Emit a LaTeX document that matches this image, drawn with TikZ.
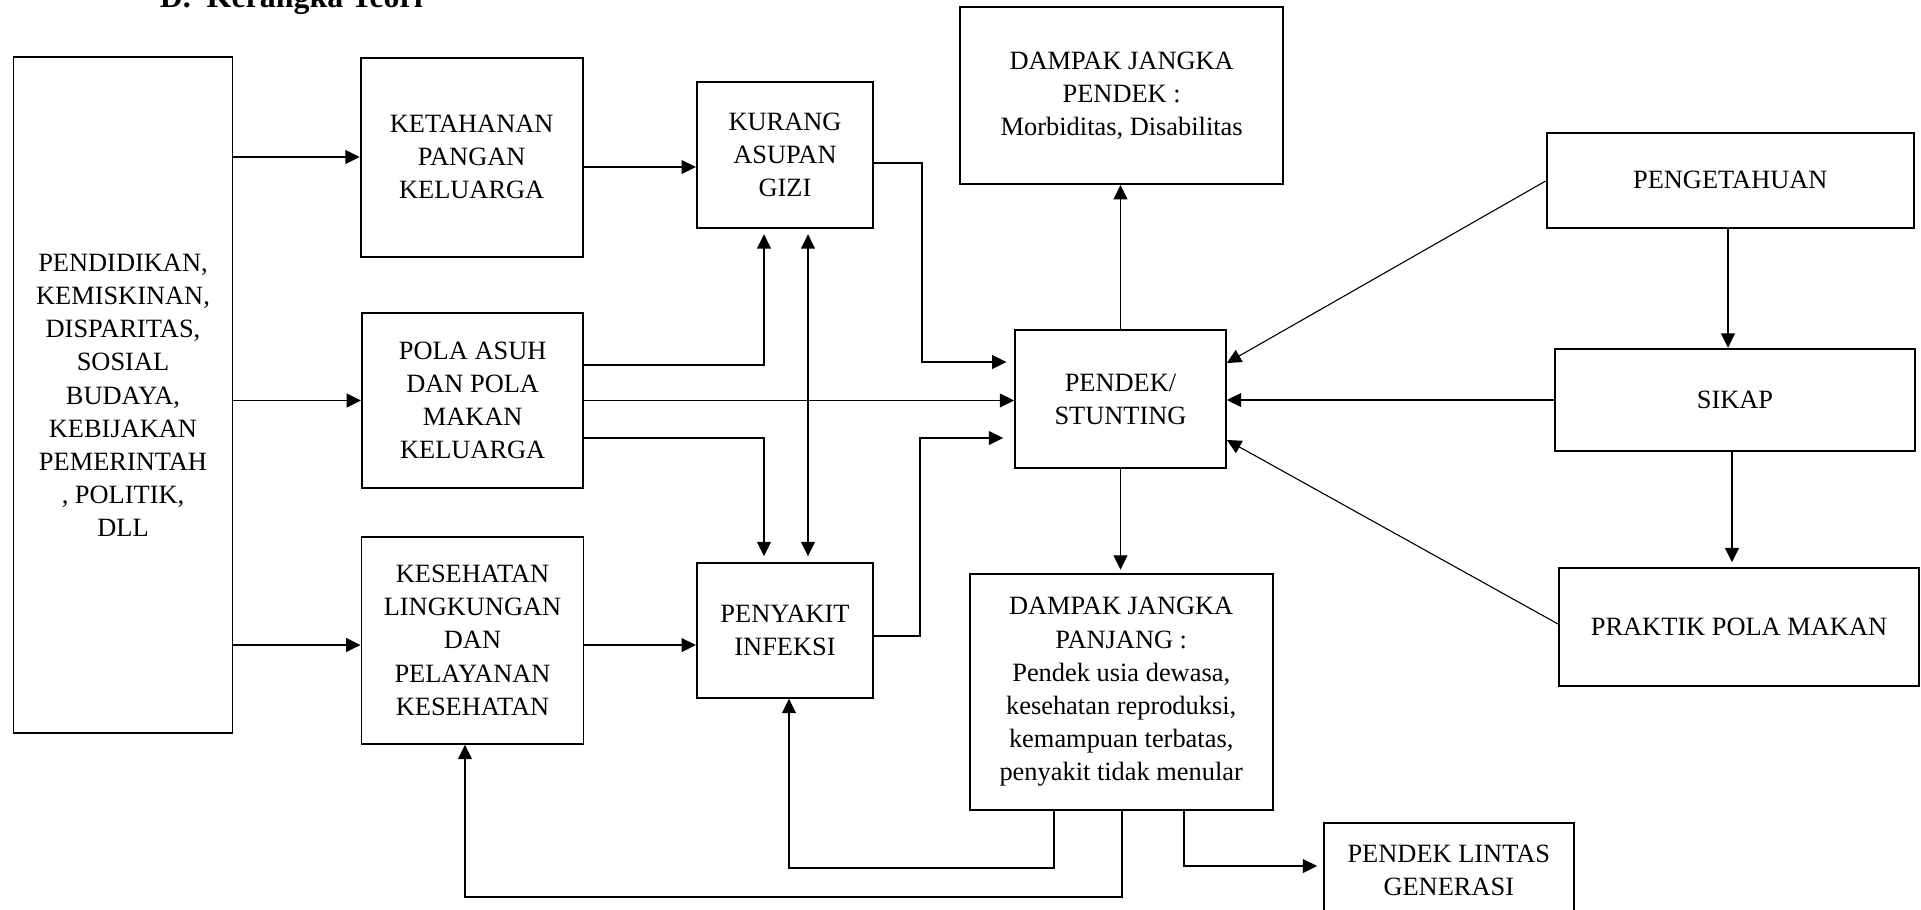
\documentclass[tikz,border=0pt]{standalone}
\usepackage{fontspec}
\setmainfont{Liberation Serif}
\usetikzlibrary{arrows.meta}
\newdimen\unitpx
\unitpx=0.4545pt

\begin{document}
\begin{tikzpicture}[x=0.4545pt,y=-0.4545pt,
  box/.style={draw,line width=0.9pt,align=center,inner sep=0pt,font=\fontsize{12}{15.1}\selectfont},
  link/.style={-{Triangle[length=6.5pt,width=6.3pt]},line width=0.5pt},
  linkboth/.style={{Triangle[length=6.5pt,width=6.3pt]}-{Triangle[length=6.5pt,width=6.3pt]},line width=0.5pt}]
\useasboundingbox (0,0) rectangle (1921,909);
\node[anchor=base west,font=\fontsize{14.5}{17}\selectfont\bfseries] (judul) at (152,7) {D.\ \ Kerangka Teori};
\node[box,minimum width=219*\unitpx,minimum height=676*\unitpx] (faktor) at (123,395.3) {PENDIDIKAN,\\KEMISKINAN,\\DISPARITAS,\\SOSIAL\\BUDAYA,\\KEBIJAKAN\\PEMERINTAH\\, POLITIK,\\DLL};
\node[box,minimum width=222*\unitpx,minimum height=199*\unitpx] (ketahanan) at (471.7,157) {KETAHANAN\\PANGAN\\KELUARGA};
\node[box,minimum width=221.5*\unitpx,minimum height=174.4*\unitpx] (pola) at (472.7,400.5) {POLA ASUH\\DAN POLA\\MAKAN\\KELUARGA};
\node[box,minimum width=222*\unitpx,minimum height=207*\unitpx] (kesehatan) at (472.5,640.3) {KESEHATAN\\LINGKUNGAN\\DAN\\PELAYANAN\\KESEHATAN};
\node[box,minimum width=176.3*\unitpx,minimum height=146*\unitpx] (kurang) at (785,154.7) {KURANG\\ASUPAN\\GIZI};
\node[box,minimum width=176.3*\unitpx,minimum height=135*\unitpx] (penyakit) at (785,630.2) {PENYAKIT\\INFEKSI};
\node[box,minimum width=210.7*\unitpx,minimum height=138.3*\unitpx] (stunting) at (1120.5,399.2) {PENDEK/\\STUNTING};
\node[box,minimum width=322.7*\unitpx,minimum height=176.7*\unitpx] (pendek) at (1121.7,95.7) {DAMPAK JANGKA\\PENDEK :\\Morbiditas, Disabilitas};
\node[box,minimum width=303.2*\unitpx,minimum height=236*\unitpx] (panjang) at (1121.2,692) {DAMPAK JANGKA\\PANJANG :\\Pendek usia dewasa,\\kesehatan reproduksi,\\kemampuan terbatas,\\penyakit tidak menular};
\node[box,minimum width=367.3*\unitpx,minimum height=95*\unitpx] (pengetahuan) at (1730.3,180) {PENGETAHUAN};
\node[box,minimum width=360*\unitpx,minimum height=102.5*\unitpx] (sikap) at (1735,400) {SIKAP};
\node[box,minimum width=360*\unitpx,minimum height=118*\unitpx] (praktik) at (1739,626.6) {PRAKTIK POLA MAKAN};
\node[box,minimum width=250.4*\unitpx,minimum height=93.4*\unitpx] (lintas) at (1448.8,870) {PENDEK LINTAS\\GENERASI};
\draw[link] (faktor.east |- ketahanan.west) -- (ketahanan.west);
\draw[link] (faktor.east |- pola.west) -- (pola.west);
\draw[link] (faktor.east |- 0,645) -- (kesehatan.west |- 0,645);
\draw[link] (ketahanan.east |- 0,167) -- (kurang.west |- 0,167);
\draw[link] (kesehatan.east |- 0,645) -- (penyakit.west |- 0,645);
\draw[link,shorten >=2.5pt] (pola.east |- 0,365) -| (kurang.south -| 764,0);
\draw[link,shorten >=2.5pt] (pola.east |- 0,438) -| (penyakit.north -| 764,0);
\draw[link] (pola.east) -- (stunting.west |- pola.east);
\draw[linkboth,shorten >=2.5pt,shorten <=2.5pt] (kurang.south -| 808,0) -- (penyakit.north -| 808,0);
\draw[link,shorten >=3.5pt] (kurang.east |- 0,163) -| (922,362) -- (stunting.west |- 0,362);
\draw[link,shorten >=5pt] (penyakit.east |- 0,636) -| (920,438) -- (stunting.west |- 0,438);
\draw[link] (stunting.north) -- (stunting.north |- pendek.south);
\draw[link,shorten >=1.5pt] (stunting.south) -- (stunting.south |- panjang.north);
\draw[link] (pengetahuan.west |- 0,181) -- (stunting.east |- 0,363);
\draw[link] (sikap.west) -- (stunting.east |- sikap.west);
\draw[link] (praktik.west |- 0,624) -- (stunting.east |- 0,440);
\draw[link] (pengetahuan.south -| 1728,0) -- (sikap.north -| 1728,0);
\draw[link,shorten >=2pt] (sikap.south -| 1732,0) -- (praktik.north -| 1732,0);
\draw[link] (panjang.south -| 1054,0) |- (789,868) -- (penyakit.south -| 789,0);
\draw[link] (panjang.south -| 1122,0) |- (465,897) -- (kesehatan.south -| 465,0);
\draw[link,shorten >=2.5pt] (panjang.south -| 1184,0) |- (lintas.west |- 0,866);
\end{tikzpicture}
\end{document}
